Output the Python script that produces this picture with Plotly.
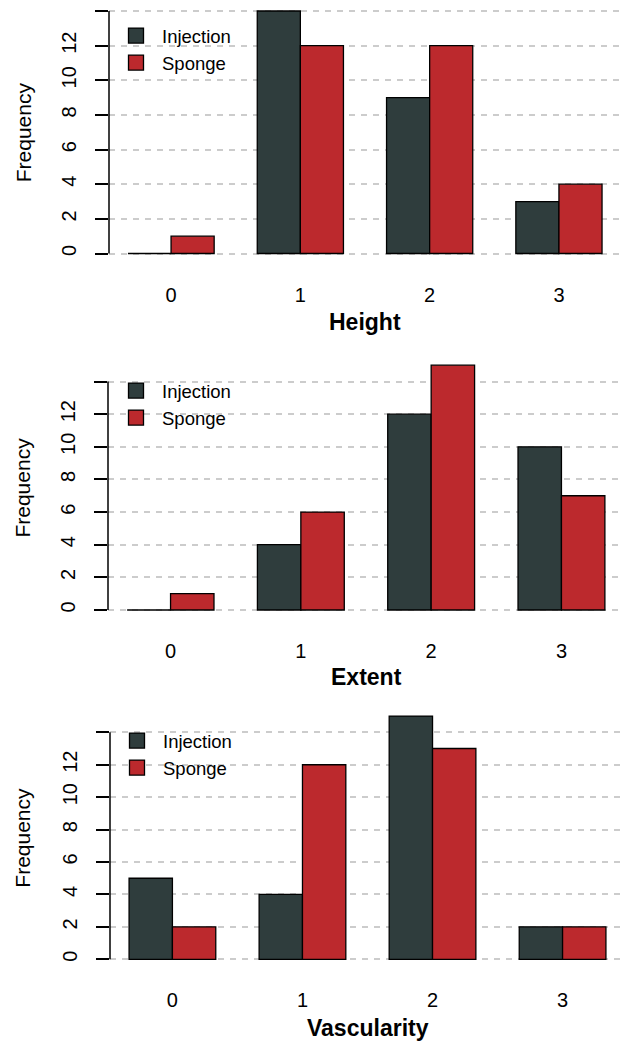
import plotly.graph_objects as go

# ---- data ----
categories = ["0", "1", "2", "3"]
series_names = ["Injection", "Sponge"]
height_injection = [0, 14, 9, 3]
height_sponge = [1, 12, 12, 4]
extent_injection = [0, 4, 12, 10]
extent_sponge = [1, 6, 15, 7]
vasc_injection = [5, 4, 15, 2]
vasc_sponge = [2, 12, 13, 2]
panel_titles = ["Height", "Extent", "Vascularity"]
y_tickvals = [0, 2, 4, 6, 8, 10, 12, 14]
y_ticktext = ["0", "2", "4", "6", "8", "10", "12", ""]

# ---- style ----
W, H = 633, 1050
FONT = "Liberation Sans, Arial, Helvetica, sans-serif"
C_INJ = "#2F3D3D"
C_SPO = "#BC292D"
GRID = "#CCCCCC"

panels = [
    (height_injection, height_sponge),
    (extent_injection, extent_sponge),
    (vasc_injection, vasc_sponge),
]
# pixel layout per panel: (zero_px, fourteen_px, xleft_px, xright_px, yrange, legend_top_px, legend_left_px, title_y_px)
layout_px = [
    (253.5, 11.0, 109.0, 621.0, [-0.3, 14.4], 17, 110, 322),
    (610.0, 381.5, 108.0, 624.0, [-0.3, 15.4], 372, 110, 677),
    (959.3, 732.3, 110.0, 625.0, [-0.3, 15.4], 722, 111, 1028),
]
XR = [-0.48, 3.48]

fig = go.Figure()
for i, ((inj, spo), lp) in enumerate(zip(panels, layout_px)):
    zero_px, top_px, xl, xr, yr, leg_top, leg_left, title_y = lp
    s = (zero_px - top_px) / 14.0
    bottom_px = zero_px - yr[0] * s
    topr_px = zero_px - yr[1] * s
    n = "" if i == 0 else str(i + 1)
    xa, ya = "x" + n, "y" + n
    legname = "legend" + n
    for name, vals, col in ((series_names[0], inj, C_INJ), (series_names[1], spo, C_SPO)):
        fig.add_trace(go.Bar(
            x=categories, y=vals, name=name, xaxis=xa, yaxis=ya,
            marker=dict(color=col, line=dict(color="black", width=1.3)),
            showlegend=False,
        ))
    for name, col in ((series_names[0], C_INJ), (series_names[1], C_SPO)):
        fig.add_trace(go.Scatter(
            x=[None], y=[None], name=name, xaxis=xa, yaxis=ya, mode="markers",
            marker=dict(symbol="square", size=15, color=col,
                        line=dict(color="black", width=1.3)),
            legend=legname, showlegend=True, hoverinfo="skip",
        ))
    xkey = "xaxis" + n
    ykey = "yaxis" + n
    fig.layout[xkey] = dict(
        domain=[xl / W, xr / W], range=XR, type="category",
        categoryorder="array", categoryarray=categories,
        anchor=ya, showgrid=False, showline=False, zeroline=False,
        ticks="", ticklabelstandoff=22,
        tickfont=dict(family=FONT, size=20, color="black"),
    )
    fig.layout[ykey] = dict(
        domain=[1 - bottom_px / H, 1 - topr_px / H], range=yr,
        anchor=xa, showline=False, zeroline=False,
        tickvals=y_tickvals, ticktext=y_ticktext, tickangle=-90,
        ticks="outside", ticklen=13, tickwidth=1.5, tickcolor="black",
        ticklabelstandoff=11,
        showgrid=True, gridcolor=GRID, gridwidth=1.5, griddash="6px,6px",
        tickfont=dict(family=FONT, size=20, color="black"),
    )
    # y axis line from 0 to 14 (as in R)
    fig.add_shape(type="line", xref=xa + " domain", yref=ya,
                  x0=0, x1=0, y0=y_tickvals[0], y1=y_tickvals[-1],
                  line=dict(color="black", width=1.5))
    fig.layout[legname] = dict(
        x=leg_left / W, y=1 - leg_top / H, xanchor="left", yanchor="top",
        bgcolor="rgba(0,0,0,0)", borderwidth=0,
        font=dict(family=FONT, size=18.5, color="black"),
        tracegroupgap=0, itemwidth=42,
    )
    ymax = max(max(inj), max(spo), y_tickvals[-1])
    fig.add_annotation(text="Frequency", xref="paper", yref=ya,
                       x=23 / W, y=ymax / 2, textangle=-90, showarrow=False,
                       font=dict(family=FONT, size=21, color="black"),
                       xanchor="center", yanchor="middle")
    fig.add_annotation(text="<b>" + panel_titles[i] + "</b>", xref=xa + " domain", yref="paper",
                       x=0.5, y=1 - title_y / H, showarrow=False,
                       font=dict(family=FONT, size=23, color="black"),
                       xanchor="center", yanchor="middle")

fig.update_layout(
    width=W, height=H, margin=dict(l=0, r=0, t=0, b=0),
    paper_bgcolor="white", plot_bgcolor="white",
    barmode="group", bargap=1/3, bargroupgap=0,
)
fig.write_html("out.html", config={"displayModeBar": False},
               post_script="document.body.style.margin='0';")
